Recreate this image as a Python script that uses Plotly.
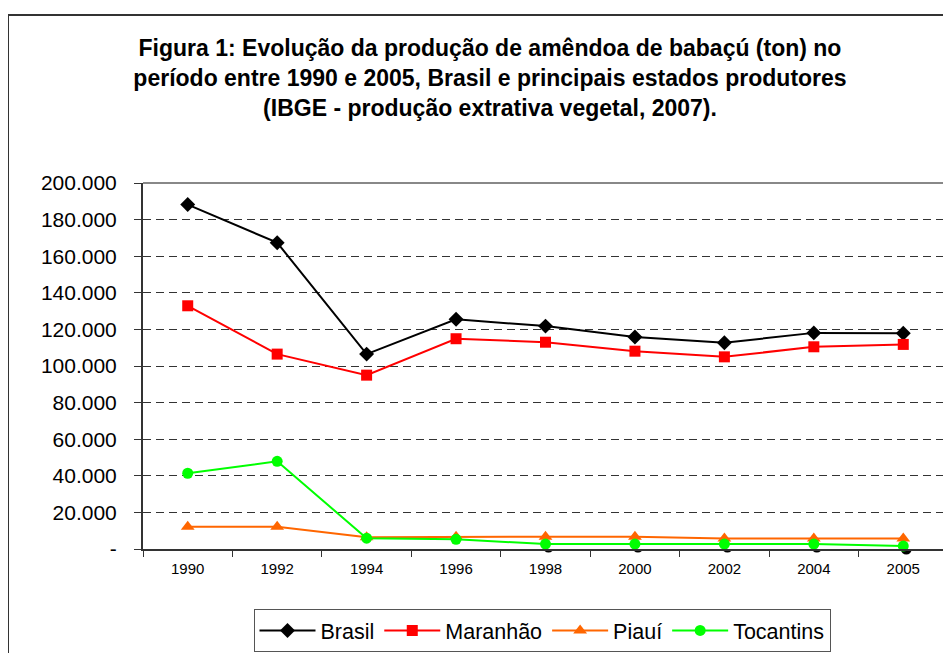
import plotly.graph_objects as go

years = ["1990", "1992", "1994", "1996", "1998", "2000", "2002", "2004", "2005"]
brasil = [188200, 167400, 106500, 125500, 121800, 115800, 112700, 118100, 117900]
maranhao = [132900, 106500, 95000, 114900, 113000, 108100, 105000, 110500, 111800]
piaui = [12200, 12200, 6400, 6700, 6700, 6700, 5800, 5800, 5800]
tocantins = [41400, 47900, 5900, 5300, 2700, 2700, 2700, 2700, 1600]

y_tickvals = [0, 20000, 40000, 60000, 80000, 100000, 120000, 140000, 160000, 180000, 200000]
y_ticktext = ["-", "20.000", "40.000", "60.000", "80.000", "100.000", "120.000",
              "140.000", "160.000", "180.000", "200.000"]

series = [
    ("Brasil", brasil, "#000000", "diamond", 11.5),
    ("Maranhão", maranhao, "#FF0000", "square", 11),
    ("Piauí", piaui, "#FF6600", "triangle-up", 12),
    ("Tocantins", tocantins, "#00FF00", "circle", 11),
]

# page body has an 8px margin: figure coordinates = screen coordinates - 8
W, H = 943, 645
ML, MR, MT, MB = 135, 0, 175, 101
pw = W - ML - MR
ph = H - MT - MB
off = 3
xr = [-0.5, len(years) - 0.5]

fig = go.Figure()

# shadows (hidden axes, shifted by a few pixels)
for name, vals, col, sym, sz in series:
    fig.add_trace(go.Scatter(
        x=years, y=vals, mode="markers", xaxis="x", yaxis="y",
        marker=dict(symbol=sym, size=sz, color="#000000", line=dict(width=0)),
        showlegend=False, hoverinfo="skip", cliponaxis=False))

for name, vals, col, sym, sz in series:
    fig.add_trace(go.Scatter(
        x=years, y=vals, mode="lines+markers", name=name, xaxis="x2", yaxis="y2",
        line=dict(color=col, width=2),
        marker=dict(symbol=sym, size=sz, color=col, line=dict(width=0)),
        cliponaxis=False))

grid = dict(showgrid=True, gridcolor="#333333", griddash="8px,5px", gridwidth=1)

fig.update_layout(
    width=W, height=H,
    margin=dict(l=ML, r=MR, t=MT, b=MB),
    paper_bgcolor="white", plot_bgcolor="white",
    separators=",.",
    font=dict(family="Liberation Sans, Arial, sans-serif", color="#000000"),
    title=dict(
        text="Figura 1: Evolução da produção de amêndoa de babaçú (ton) no<br>"
             "período entre 1990 e 2005, Brasil e principais estados produtores<br>"
             "(IBGE - produção extrativa vegetal, 2007).",
        x=482 / W, xanchor="center", xref="container",
        y=1 - 48 / H, yanchor="top", yref="container",
        font=dict(family="Liberation Sans, Arial, sans-serif", size=23, weight="bold", color="#000000"),
    ),
    xaxis=dict(type="category", domain=[off / pw, 1], anchor="y", visible=False,
               categoryorder="array", categoryarray=years, range=xr, autorange=False),
    yaxis=dict(range=[0, 200000], domain=[0, 1 - off / ph], anchor="x", visible=False),
    xaxis2=dict(type="category", domain=[0, 1 - off / pw], anchor="y2",
                categoryorder="array", categoryarray=years, range=xr, autorange=False,
                tickson="boundaries", ticks="outside", ticklen=6, tickcolor="#333333",
                showline=True, linecolor="#333333", linewidth=2, showgrid=False,
                tickfont=dict(size=15, color="#000000"), ticklabelstandoff=5),
    yaxis2=dict(range=[0, 200000], domain=[off / ph, 1], anchor="x2",
                tickvals=y_tickvals, ticktext=y_ticktext,
                ticks="outside", ticklen=7, tickcolor="#333333",
                showline=True, linecolor="#333333", linewidth=2,
                tickfont=dict(size=21, color="#000000"), ticklabelstandoff=13,
                zeroline=False, **grid),
    legend=dict(orientation="h", xref="container", yref="container",
                x=534 / W, xanchor="center", y=1 - 601 / H, yanchor="top",
                bordercolor="#555555", borderwidth=1, bgcolor="white",
                font=dict(size=21.5, color="#000000"), itemwidth=56),
    showlegend=True,
)

# plot-area top/right gray border
fig.add_shape(type="line", xref="x2 domain", yref="y2 domain", x0=0, x1=1, y0=1, y1=1,
              line=dict(color="#888888", width=2))
fig.add_shape(type="line", xref="x2 domain", yref="y2 domain", x0=1, x1=1, y0=0, y1=1,
              line=dict(color="#888888", width=2))

# outer chart frame (top and left edges visible)
fx = (0 - ML) / pw
fy = (H - MB - 7) / ph
fig.add_shape(type="line", xref="paper", yref="paper", x0=fx, x1=1.05, y0=fy, y1=fy,
              line=dict(color="#333333", width=2))
fig.add_shape(type="line", xref="paper", yref="paper", x0=fx, x1=fx, y0=fy, y1=-0.5,
              line=dict(color="#333333", width=2))

fig.write_html("out.html")
